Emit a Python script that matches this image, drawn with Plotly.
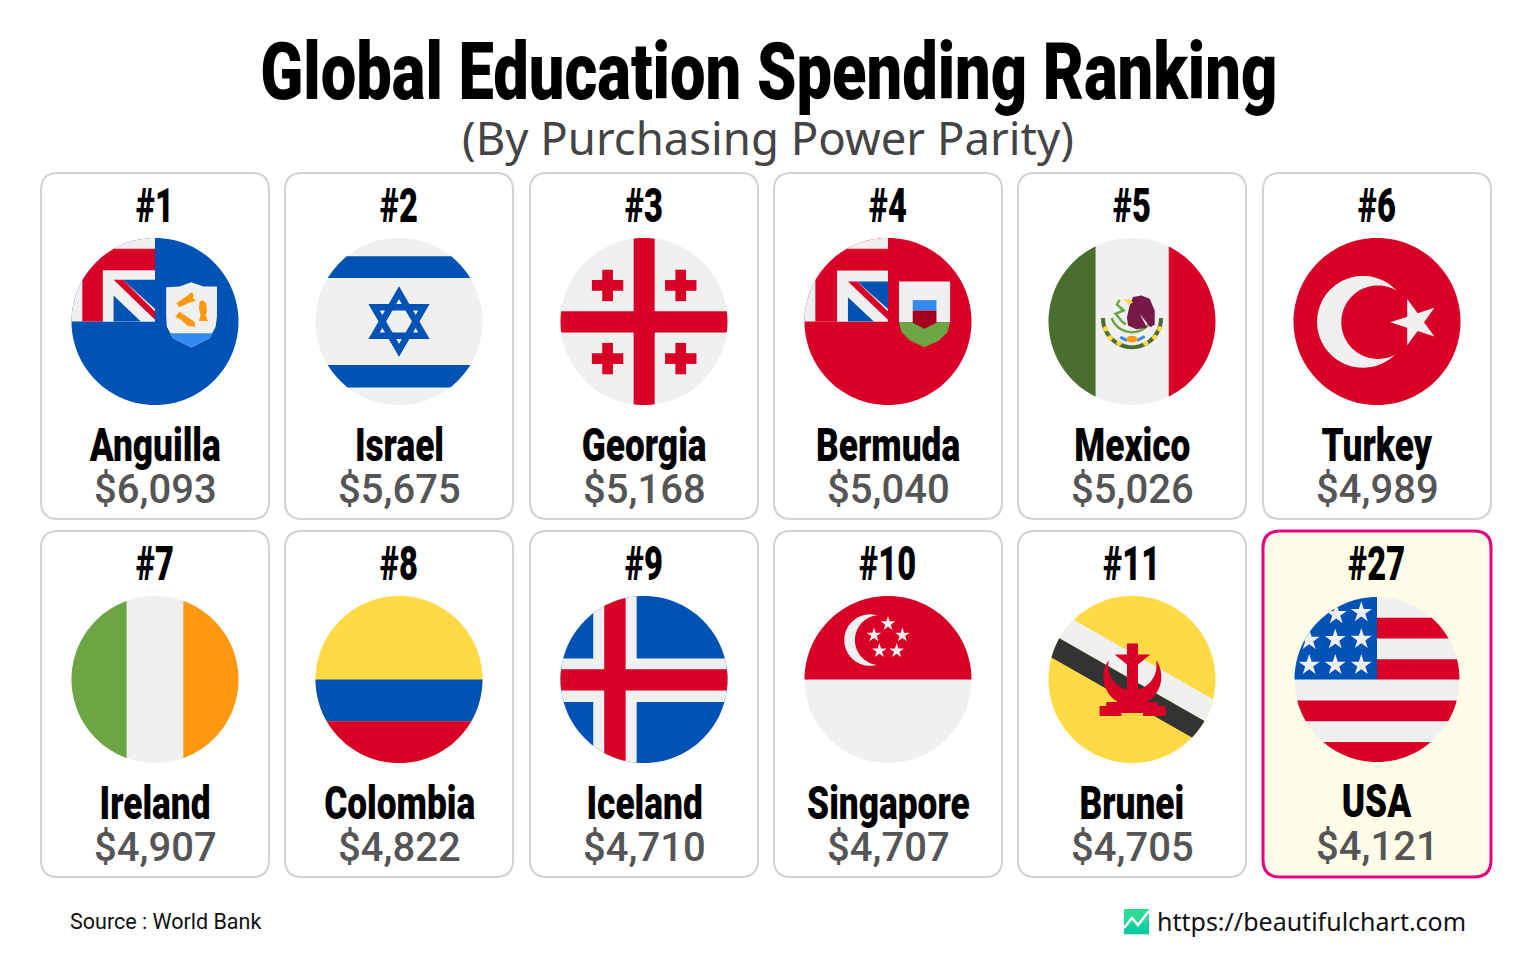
import math
import plotly.graph_objects as go

# chart data
RANKS = ["#1", "#2", "#3", "#4", "#5", "#6", "#7", "#8", "#9", "#10", "#11", "#27"]
COUNTRIES = ["Anguilla", "Israel", "Georgia", "Bermuda", "Mexico", "Turkey",
             "Ireland", "Colombia", "Iceland", "Singapore", "Brunei", "USA"]
SPENDING = [6093, 5675, 5168, 5040, 5026, 4989, 4907, 4822, 4710, 4707, 4705, 4121]

TITLE = "Global Education Spending Ranking"
SUBTITLE = "(By Purchasing Power Parity)"
SOURCE = "Source : World Bank"
SITE = "https://beautifulchart.com"

# layout constants (page pixels)
CARD_LEFT = [41, 285, 530, 774, 1018, 1263]
CARD_TOP = [173, 531]
CARD_W = 228
CARD_H = 346
FLAG_R = 83.5

HEAVY = "Roboto"

RED = "#d80027"
BLUE = "#0052b4"
WHITE = "#f0f0f0"
YELLOW = "#ffda44"
LIGHT_BLUE = "#338af3"
ORANGE = "#ff9811"
GREEN = "#6da544"
DARK_GREEN = "#496e2d"

# no condensed face is installed, so heavy text gets squeezed horizontally after drawing
CONDENSE_JS = """
var gd = document.getElementById('{plot_id}');
document.body.style.margin = '0';
gd.querySelectorAll('.annotation').forEach(function (g) {
    var ann = gd.layout.annotations[+g.getAttribute('data-index')];
    if (!ann.name) return;
    var txt = g.querySelector('.annotation-text');
    var box = txt.getBBox();
    var mid = box.x + box.width / 2;
    txt.setAttribute('transform', 'translate(' + mid + ',0) scale(' + ann.name + ',1) translate(' + (-mid) + ',0)');
});
"""


def circle_pts(cx, cy, r, n=72):
    return [(cx + r * math.cos(2 * math.pi * i / n), cy + r * math.sin(2 * math.pi * i / n)) for i in range(n)]


def arc_pts(cx, cy, r, a0, a1, n=24):
    return [(cx + r * math.cos(math.radians(a0 + (a1 - a0) * i / n)),
             cy + r * math.sin(math.radians(a0 + (a1 - a0) * i / n))) for i in range(n + 1)]


def star_pts(cx, cy, r, rot=-90):
    pts = []
    for i in range(10):
        rad = r if i % 2 == 0 else r * 0.382
        a = math.radians(rot + 36 * i)
        pts.append((cx + rad * math.cos(a), cy + rad * math.sin(a)))
    return pts


def rect_pts(x0, y0, x1, y1):
    return [(x0, y0), (x1, y0), (x1, y1), (x0, y1)]


DISC = circle_pts(0, 0, 1, 120)


def clip_to_disc(pts):
    # Sutherland-Hodgman against the unit disc polygon
    out = list(pts)
    for i in range(len(DISC)):
        a = DISC[i]
        b = DISC[(i + 1) % len(DISC)]
        inside = lambda p: (b[0] - a[0]) * (p[1] - a[1]) - (b[1] - a[1]) * (p[0] - a[0]) >= 0
        cur, out = out, []
        for j in range(len(cur)):
            p, q = cur[j], cur[(j + 1) % len(cur)]
            if inside(p):
                out.append(p)
            if inside(p) != inside(q):
                d1 = (b[0] - a[0]) * (p[1] - a[1]) - (b[1] - a[1]) * (p[0] - a[0])
                d2 = (b[0] - a[0]) * (q[1] - a[1]) - (b[1] - a[1]) * (q[0] - a[0])
                t = d1 / (d1 - d2)
                out.append((p[0] + t * (q[0] - p[0]), p[1] + t * (q[1] - p[1])))
        if not out:
            return []
    return out


def crop(pts, ox=277, oy=273, r=250):
    # flags were measured on 3x crops where the disc radius is 250
    return [((x - ox) / r, (y - oy) / r) for x, y in pts]


def fill(pts, color):
    return dict(pts=pts, fill=color)


def stroke(pts, color, width, closed=False):
    return dict(pts=pts, line=color, width=width, closed=closed)


def ensign(base, canton, x2, y2, bx, by):
    layers = [
        fill(DISC, base),
        fill(rect_pts(-1, -1, 0, 0), WHITE),
        fill([(-0.87, -0.87), (0, -0.87), (0, y2), (x2, y2), (x2, 0), (-0.87, 0)], RED),
        fill(rect_pts(x2, y2, 0, 0), WHITE),
        fill([(bx + 0.11, by), (0, by), (0, -0.15)], canton),
        fill([(bx, by + 0.19), (bx, 0), (-0.17, 0)], canton),
        fill([(bx, by), (bx + 0.11, by), (0, -0.12), (0, -0.02)], RED),
    ]
    return layers


def flag_anguilla():
    layers = ensign(BLUE, BLUE, -0.624, -0.61, -0.496, -0.5)
    p = lambda pts: crop(pts, 76.5, 154.5)
    layers += [
        fill(p([(110, 52), (150, 50), (185, 37), (222, 50), (262, 50), (262, 140), (258, 170), (240, 205),
                (185, 232), (130, 205), (112, 170), (110, 140)]), WHITE),
        fill(p([(122, 190), (248, 190), (240, 205), (185, 232), (130, 205)]), LIGHT_BLUE),
        fill(p([(140, 100), (170, 80), (185, 67), (192, 72), (190, 85), (200, 92), (175, 100), (150, 112)]), ORANGE),
        fill(p([(210, 95), (218, 90), (230, 100), (232, 125), (228, 135), (235, 153), (208, 153), (213, 135),
                (208, 115)]), ORANGE),
        fill(p([(137, 140), (150, 125), (165, 135), (195, 155), (197, 170), (175, 168), (155, 150)]), ORANGE),
    ]
    return layers


def flag_israel():
    return [
        fill(DISC, WHITE),
        fill(rect_pts(-1, -0.78, 1, -0.52), BLUE),
        fill(rect_pts(-1, 0.52, 1, 0.79), BLUE),
        stroke([(0, -0.345), (0.299, 0.172), (-0.299, 0.172)], BLUE, 6.5, True),
        stroke([(0, 0.345), (0.299, -0.172), (-0.299, -0.172)], BLUE, 6.5, True),
    ]


def flag_georgia():
    layers = [
        fill(DISC, WHITE),
        fill(crop(rect_pts(246, 0, 309, 555)), RED),
        fill(crop(rect_pts(0, 242, 555, 306)), RED),
    ]
    for x, y in [(168, 165), (387, 165), (168, 384), (387, 384)]:
        layers.append(fill(crop(rect_pts(x - 16, y - 47, x + 16, y + 47)), RED))
        layers.append(fill(crop(rect_pts(x - 47, y - 16, x + 47, y + 16)), RED))
    return layers


def flag_bermuda():
    layers = ensign(RED, BLUE, -0.608, -0.608, -0.48, -0.48)
    p = lambda pts: crop(pts, 352, 448)
    layers += [
        fill(p([(385, 328), (538, 328), (538, 450), (385, 450)]), WHITE),
        fill(p([(385, 450), (538, 450), (530, 480), (505, 505), (461, 525), (418, 505), (393, 480)]), GREEN),
        fill(p(rect_pts(426, 384, 497, 415)), LIGHT_BLUE),
        fill(p([(426, 415), (497, 415), (497, 452), (461, 470), (426, 452)]), "#a2001d"),
    ]
    return layers


def flag_mexico():
    eagle = [(280, 200), (305, 195), (330, 205), (345, 240), (345, 282), (332, 290), (300, 250), (322, 292),
             (290, 296), (265, 285), (262, 260), (270, 225)]
    layers = [
        fill(DISC, WHITE),
        fill(crop(rect_pts(0, 0, 168, 555)), DARK_GREEN),
        fill(crop(rect_pts(387, 0, 555, 555)), RED),
        stroke(crop(arc_pts(277, 263, 87, 180, 0)), DARK_GREEN, 4),
        stroke(crop(arc_pts(277, 240, 65, 160, 30)), GREEN, 2.5),
        fill(crop(eagle), "#751a46"),
        fill(crop([(250, 208), (268, 206), (280, 216), (268, 222)]), YELLOW),
        stroke(crop([(240, 208), (232, 222), (252, 240), (228, 250), (246, 272), (258, 282)]), GREEN, 2.5),
        stroke(crop([(242, 320), (262, 330)]), LIGHT_BLUE, 3),
        stroke(crop([(292, 330), (315, 318)]), LIGHT_BLUE, 3),
        fill(crop([(277 + 17 * math.cos(a * math.pi / 8), 326 + 10 * math.sin(a * math.pi / 8)) for a in range(16)]), ORANGE),
    ]
    for x, y in [(198, 295), (212, 322), (238, 338), (318, 338), (345, 320), (360, 295)]:
        layers.append(fill(crop(circle_pts(x, y, 8, 10)), YELLOW))
    return layers


def flag_turkey():
    return [
        fill(DISC, RED),
        fill(crop(circle_pts(235, 274, 137.5)), WHITE),
        fill(crop(circle_pts(280, 275, 110)), RED),
        fill(crop(star_pts(390, 275, 73, 180)), WHITE),
    ]


def flag_ireland():
    return [
        fill(DISC, WHITE),
        fill(rect_pts(-1, -1, -0.34, 1), GREEN),
        fill(rect_pts(0.34, -1, 1, 1), ORANGE),
    ]


def flag_colombia():
    return [
        fill(DISC, YELLOW),
        fill(rect_pts(-1, 0, 1, 0.5), BLUE),
        fill(rect_pts(-1, 0.5, 1, 1), RED),
    ]


def flag_iceland():
    return [
        fill(DISC, BLUE),
        fill(crop(rect_pts(125, 0, 255, 555)), WHITE),
        fill(crop(rect_pts(0, 210, 555, 340)), WHITE),
        fill(crop(rect_pts(158, 0, 222, 555)), RED),
        fill(crop(rect_pts(0, 242, 555, 306)), RED),
    ]


def flag_singapore():
    layers = [
        fill(DISC, WHITE),
        fill(rect_pts(-1, -1, 1, 0), RED),
        fill(crop(circle_pts(223, 155, 77)), WHITE),
        fill(crop(circle_pts(253, 155, 75)), RED),
    ]
    for x, y in [(277, 106), (235, 140), (320, 140), (251, 187), (303, 187)]:
        layers.append(fill(crop(star_pts(x, y, 23)), WHITE))
    return layers


def flag_brunei():
    a0 = math.degrees(math.atan2(218 - 265, 349 - 278))
    a1 = math.degrees(math.atan2(218 - 265, 207 - 278)) + 360
    b0 = math.degrees(math.atan2(218 - 232, 349 - 278))
    b1 = math.degrees(math.atan2(218 - 232, 207 - 278)) + 360
    crescent = arc_pts(278, 265, 87, a0, a1) + arc_pts(278, 232, 72.4, b1, b0)
    return [
        fill(DISC, YELLOW),
        fill(crop([(0, 36), (555, 352), (555, 432), (0, 116)]), WHITE),
        fill(crop([(0, 116), (555, 432), (555, 503), (0, 187)]), "#333333"),
        fill(crop(crescent), RED),
        fill(crop([(262, 165), (295, 165), (295, 198), (332, 198), (295, 228), (295, 345), (262, 345), (262, 228),
                   (225, 198), (262, 198)]), RED),
        fill(crop([(180, 352), (200, 352), (200, 340), (355, 340), (355, 352), (378, 352), (378, 382), (310, 382),
                   (310, 373), (245, 373), (245, 382), (180, 382)]), RED),
    ]


def flag_usa():
    p = lambda pts: crop(pts, 275, 273, 247)
    layers = [
        fill(DISC, WHITE),
        fill(p(rect_pts(275, 88, 555, 150)), RED),
        fill(p(rect_pts(275, 212, 555, 273)), RED),
        fill(p(rect_pts(0, 336, 555, 398)), RED),
        fill(p(rect_pts(0, 460, 555, 555)), RED),
        fill(p(rect_pts(0, 0, 275, 273)), BLUE),
    ]
    for x, y in [(228, 72), (153, 78), (228, 152), (150, 153), (72, 155), (228, 230), (150, 230), (72, 230)]:
        layers.append(fill(p(star_pts(x, y, 33)), WHITE))
    return layers


FLAG_DRAW = [flag_anguilla, flag_israel, flag_georgia, flag_bermuda, flag_mexico, flag_turkey,
             flag_ireland, flag_colombia, flag_iceland, flag_singapore, flag_brunei, flag_usa]


def to_path(pts, cx, cy, r, closed=True):
    path = "M" + " L".join(f"{cx + x * r:.2f},{cy + y * r:.2f}" for x, y in pts)
    return path + (" Z" if closed else "")


def flag_shapes(layers, cx, cy, r):
    shapes = []
    for layer in layers:
        if "fill" in layer:
            pts = clip_to_disc(layer["pts"])
            if pts:
                shapes.append(dict(type="path", xref="x", yref="y", path=to_path(pts, cx, cy, r),
                                   fillcolor=layer["fill"], line=dict(width=0)))
        else:
            shapes.append(dict(type="path", xref="x", yref="y", path=to_path(layer["pts"], cx, cy, r, layer["closed"]),
                               line=dict(color=layer["line"], width=layer["width"])))
    return shapes


def card_path(x, y, w, h, c=17):
    return (f"M{x + c},{y} L{x + w - c},{y} Q{x + w},{y} {x + w},{y + c} L{x + w},{y + h - c} "
            f"Q{x + w},{y + h} {x + w - c},{y + h} L{x + c},{y + h} Q{x},{y + h} {x},{y + h - c} "
            f"L{x},{y + c} Q{x},{y} {x + c},{y} Z")


def add_text(fig, x, y, text, size, color="#000000", family=HEAVY, weight=900, squeeze=None, anchor="center"):
    extra = dict(name=str(squeeze)) if squeeze else {}
    fig.add_annotation(x=x, y=y, xref="x", yref="y", text=text, showarrow=False, xanchor=anchor,
                       yanchor="middle", font=dict(family=family, size=size, color=color, weight=weight), **extra)


fig = go.Figure()
shapes = []

for i, country in enumerate(COUNTRIES):
    row, col = divmod(i, 6)
    x = CARD_LEFT[col]
    y = CARD_TOP[row]
    is_usa = country == "USA"
    shapes.append(dict(type="path", xref="x", yref="y", path=card_path(x, y, CARD_W, CARD_H),
                       fillcolor="#fffde8" if is_usa else "#ffffff",
                       line=dict(color="#e6007e" if is_usa else "#d2d2d2", width=3 if is_usa else 2)))
    cx = x + CARD_W / 2
    cy = y + 148.5
    r = 82.5 if is_usa else FLAG_R
    shapes += flag_shapes(FLAG_DRAW[i](), cx, cy, r)

    add_text(fig, cx, y + 32, RANKS[i], 48, squeeze=0.68)
    add_text(fig, cx, y + (269 if is_usa else 271), country, 47, squeeze=0.75)
    add_text(fig, cx, y + (315 if is_usa else 316), f"${SPENDING[i]:,}", 40, color="#555555", weight=500)

# site logo: vertical gradient built from strips, white zigzag on top
for k in range(12):
    t = k / 11
    color = f"rgb({int(40 - 30 * t)},{int(222 - 20 * t)},{int(140 + 24 * t)})"
    shapes.append(dict(type="rect", xref="x", yref="y", x0=1124, x1=1149, y0=909 + k * 25 / 12, y1=909 + (k + 1) * 25 / 12 + 0.3,
                       fillcolor=color, line=dict(width=0)))
shapes.append(dict(type="path", xref="x", yref="y", path="M1124,928 L1132,918 L1138,925 L1149,911",
                   line=dict(color="#ffffff", width=2.5)))

add_text(fig, 769, 72, TITLE, 80, squeeze=0.79)
add_text(fig, 768, 137, SUBTITLE, 45.5, color="#444444", family="Noto Sans", weight=400)
add_text(fig, 68, 921, SOURCE, 21.5, color="#111111", weight=400, anchor="left")
add_text(fig, 1155, 921, SITE, 25, color="#111111", family="Noto Sans", weight=400, anchor="left")

fig.update_layout(
    width=1536,
    height=960,
    margin=dict(l=0, r=0, t=0, b=0),
    paper_bgcolor="#ffffff",
    plot_bgcolor="#ffffff",
    showlegend=False,
    shapes=shapes,
    xaxis=dict(visible=False, range=[0, 1536], fixedrange=True),
    yaxis=dict(visible=False, range=[960, 0], fixedrange=True),
)

fig.write_html("out.html", config=dict(displayModeBar=False), post_script=CONDENSE_JS)
